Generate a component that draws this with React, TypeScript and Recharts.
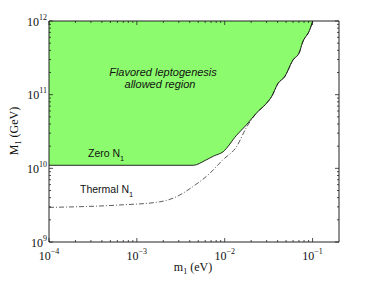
import { ComposedChart, Area, Line, XAxis, YAxis } from "recharts";

// boundary of the "zero N1" allowed region (m1 in eV, M1 in GeV)
const zeroM1 = [1e-4, 4.4e-3, 6e-3, 7.5e-3, 9.6e-3, 0.0136, 0.0177, 0.0229, 0.0298, 0.034, 0.0404, 0.0481, 0.0597, 0.0711, 0.0764, 0.0925, 0.1007];
const zeroMN = [1.1e10, 1.1e10, 1.28e10, 1.47e10, 1.68e10, 2.8e10, 3.9e10, 5.6e10, 7.6e10, 9.3e10, 1.42e11, 1.75e11, 2.94e11, 3.8e11, 5e11, 7.5e11, 1e12];

// thermal N1 curve
const thermM1 = [1e-4, 6.4e-4, 1.8e-3, 2.8e-3, 4.3e-3, 6.8e-3, 9.5e-3, 0.0136, 0.0177, 0.0229, 0.0298, 0.034, 0.0404, 0.0481, 0.0597, 0.0711, 0.0764, 0.0925, 0.1007];
const thermMN = [2.95e9, 3.18e9, 3.5e9, 4.1e9, 5.6e9, 8.6e9, 1.3e10, 1.96e10, 3.6e10, 5.6e10, 7.6e10, 9.3e10, 1.42e11, 1.75e11, 2.94e11, 3.8e11, 5e11, 7.5e11, 1e12];

const xTicks = [1e-4, 2e-4, 3e-4, 4e-4, 5e-4, 6e-4, 7e-4, 8e-4, 9e-4, 1e-3, 2e-3, 3e-3, 4e-3, 5e-3, 6e-3, 7e-3, 8e-3, 9e-3, 1e-2, 2e-2, 3e-2, 4e-2, 5e-2, 6e-2, 7e-2, 8e-2, 9e-2, 1e-1];
const yTicks = [1e9, 2e9, 3e9, 4e9, 5e9, 6e9, 7e9, 8e9, 9e9, 1e10, 2e10, 3e10, 4e10, 5e10, 6e10, 7e10, 8e10, 9e10, 1e11, 2e11, 3e11, 4e11, 5e11, 6e11, 7e11, 8e11, 9e11, 1e12];

const zeroData = zeroM1.map((m, i) => ({ m, band: [zeroMN[i], 1e12], edge: zeroMN[i] }));
const thermData = thermM1.map((m, i) => ({ m, t: thermMN[i] }));

const frame = "#222";
const serif = "Liberation Serif";
const sans = "Liberation Sans";

const expOf = (v: number) => Math.round(Math.log10(v));
const isMajor = (v: number) => Math.abs(v - Math.pow(10, expOf(v))) / v < 1e-6;
const expText = (n: number) => (n < 0 ? "\u2212" + Math.abs(n) : String(n));

const BottomTick = (props: any) => {
  const { x, y, payload } = props;
  const v = payload.value;
  const major = isMajor(v);
  return (
    <g>
      <line x1={x} x2={x} y1={y} y2={y - (major ? 4 : 2)} stroke={frame} strokeWidth={0.8} />
      {major && (
        <text x={x} y={y + 18} textAnchor="middle" fontFamily={serif} fontSize={12} fill="#111">
          <tspan>10</tspan>
          <tspan dy={-6} fontSize={8}>{expText(expOf(v))}</tspan>
        </text>
      )}
    </g>
  );
};

const TopTick = (props: any) => {
  const { x, y, payload } = props;
  const major = isMajor(payload.value);
  return <line x1={x} x2={x} y1={y} y2={y + (major ? 4 : 2)} stroke={frame} strokeWidth={0.8} />;
};

const LeftTick = (props: any) => {
  const { x, y, payload } = props;
  const v = payload.value;
  const major = isMajor(v);
  return (
    <g>
      <line x1={x} x2={x + (major ? 4 : 2)} y1={y} y2={y} stroke={frame} strokeWidth={0.8} />
      {major && (
        <text x={x - 2} y={y + 4.5} textAnchor="end" fontFamily={serif} fontSize={12} fill="#111">
          <tspan>10</tspan>
          <tspan dy={-6} fontSize={8}>{expText(expOf(v))}</tspan>
        </text>
      )}
    </g>
  );
};

const RightTick = (props: any) => {
  const { x, y, payload } = props;
  const major = isMajor(payload.value);
  return <line x1={x} x2={x - (major ? 4 : 2)} y1={y} y2={y} stroke={frame} strokeWidth={0.8} />;
};

export default function App() {
  return (
    <div style={{ position: "absolute", left: 0, top: 0, width: 374, height: 281, background: "#fff" }}>
      <ComposedChart width={374} height={281} margin={{ top: 20, right: 34, bottom: 38, left: 48 }}>
        <XAxis dataKey="m" type="number" scale="log" domain={[1e-4, 0.2]} allowDataOverflow
          ticks={xTicks} interval={0} height={1} tickSize={0} tickMargin={0} tickLine={false}
          axisLine={{ stroke: frame }} tick={<BottomTick />} />
        <XAxis xAxisId="top" orientation="top" dataKey="m" type="number" scale="log" domain={[1e-4, 0.2]} allowDataOverflow
          ticks={xTicks} interval={0} height={1} tickSize={0} tickMargin={0} tickLine={false}
          axisLine={{ stroke: frame }} tick={<TopTick />} />
        <YAxis type="number" scale="log" domain={[1e9, 1e12]} allowDataOverflow
          ticks={yTicks} interval={0} width={1} tickSize={0} tickMargin={0} tickLine={false}
          axisLine={{ stroke: frame }} tick={<LeftTick />} />
        <YAxis yAxisId="right" orientation="right" type="number" scale="log" domain={[1e9, 1e12]} allowDataOverflow
          ticks={yTicks} interval={0} width={1} tickSize={0} tickMargin={0} tickLine={false}
          axisLine={{ stroke: frame }} tick={<RightTick />} />

        <Area data={zeroData} dataKey="band" type="monotone" fill="#8cfc6e" fillOpacity={1} stroke="none" isAnimationActive={false} />
        <Line data={thermData} dataKey="t" type="monotone" stroke="#333" strokeWidth={0.8} strokeDasharray="5 2 1 2" dot={false} isAnimationActive={false} />
        <Line data={zeroData} dataKey="edge" type="monotone" stroke="#111" strokeWidth={0.9} dot={false} isAnimationActive={false} />
      </ComposedChart>

      <svg width={374} height={281} style={{ position: "absolute", left: 0, top: 0, pointerEvents: "none" }}>
        <text x={163} y={76} textAnchor="middle" fontFamily={sans} fontStyle="italic" fontSize={11} fill="#111">Flavored leptogenesis</text>
        <text x={160} y={88} textAnchor="middle" fontFamily={sans} fontStyle="italic" fontSize={11} fill="#111">allowed region</text>
        <text x={88} y={157} fontFamily={sans} fontSize={10.5} fill="#111">
          <tspan>Zero N</tspan>
          <tspan dy={3.5} fontSize={7.5}>1</tspan>
        </text>
        <text x={80} y={193} fontFamily={sans} fontSize={10.5} fill="#111">
          <tspan>Thermal N</tspan>
          <tspan dy={3.5} fontSize={7.5}>1</tspan>
        </text>
        <text x={193} y={271} textAnchor="middle" fontFamily={serif} fontSize={12} fill="#111">
          <tspan>m</tspan>
          <tspan dy={3} fontSize={8}>1</tspan>
          <tspan dy={-3}> (eV)</tspan>
        </text>
        <text transform="translate(18,131) rotate(-90)" textAnchor="middle" fontFamily={serif} fontSize={12} fill="#111">
          <tspan>M</tspan>
          <tspan dy={3} fontSize={8}>1</tspan>
          <tspan dy={-3}> (GeV)</tspan>
        </text>
      </svg>
    </div>
  );
}
